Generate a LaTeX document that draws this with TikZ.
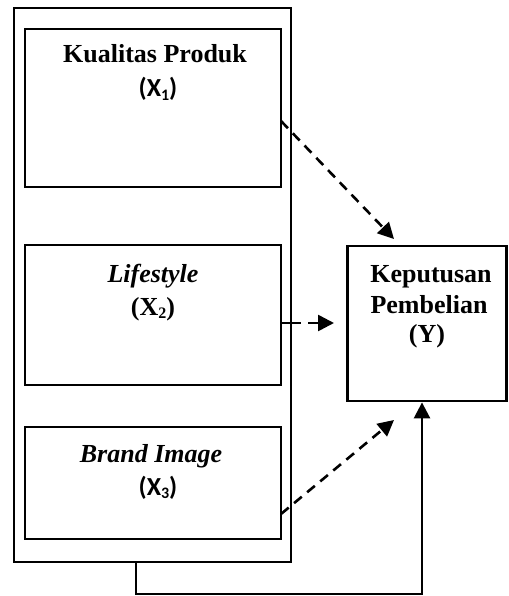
\documentclass[tikz,border=0pt]{standalone}
\usepackage{fontspec}
\setmainfont{Liberation Serif}
\newfontfamily\calib{Carlito}
\usetikzlibrary{arrows.meta}
\newcommand{\sbx}[1]{\raisebox{-0.12em}{\fontsize{16}{16}\selectfont #1}}
\begin{document}
\begin{tikzpicture}[x=1pt,y=-1pt,
  varbox/.style={draw=black,line width=2.8pt,rectangle,inner sep=0pt},
  outerbox/.style={draw=black,line width=2pt,rectangle,inner sep=0pt},
  lbl/.style={anchor=base,inner sep=0pt,font=\fontsize{26}{30}\selectfont\bfseries},
  dasharrow/.style={line width=2.6pt,dash pattern=on 10pt off 7pt,-{Triangle[length=16pt,width=16pt]}},
  solidarrow/.style={line width=2.6pt,-{Triangle[length=16pt,width=16pt]}}]
\useasboundingbox (0,0) rectangle (508,596);
% outer frame
\node[outerbox,minimum width=277pt,minimum height=554pt] (outer) at (152.5,285) {};
% variable boxes
\node[varbox,minimum width=256pt,minimum height=158pt] (b1) at (153,108) {};
\node[varbox,minimum width=256pt,minimum height=140pt] (b2) at (153,315) {};
\node[varbox,minimum width=256pt,minimum height=112pt] (b3) at (153,483) {};
\node[varbox,minimum width=159pt,minimum height=155pt] (yb) at (427,323.5) {};
% texts
\node[lbl] (t1) at (155,63) {Kualitas Produk};
\node[lbl] (t1s) at (158,97) {\calib (X\sbx{1})};
\node[lbl] (t2) at (153,282) {\itshape Lifestyle};
\node[lbl] (t2s) at (153,315) {(X\sbx{2})};
\node[lbl] (t3) at (151,462) {\itshape Brand Image};
\node[lbl] (t3s) at (158,495) {\calib (X\sbx{3})};
\node[lbl] (ty1) at (431,282) {Keputusan};
\node[lbl] (ty2) at (429,313) {Pembelian};
\node[lbl] (ty3) at (427,342) {(Y)};
% connector coordinates
\coordinate (a1s) at (281,121);
\coordinate (a1e) at (394,239);
\coordinate (a2m) at (291,323);
\coordinate (a2e) at (334,323);
\coordinate (a3s) at (281,514);
\coordinate (a3e) at (394,420);
\coordinate (bl) at (136,594);
\coordinate (br) at (422,594);
% connectors
\draw[dasharrow] (a1s) -- (a1e);
\draw[line width=2.6pt] (b2.east |- a2m) -- (a2m);
\draw[dasharrow] (a2m) -- (a2e);
\draw[dasharrow] (a3s) -- (a3e);
\draw[solidarrow] (outer.south -| bl) -- (bl) -- (br) -- (yb.south -| br);
\end{tikzpicture}
\end{document}
